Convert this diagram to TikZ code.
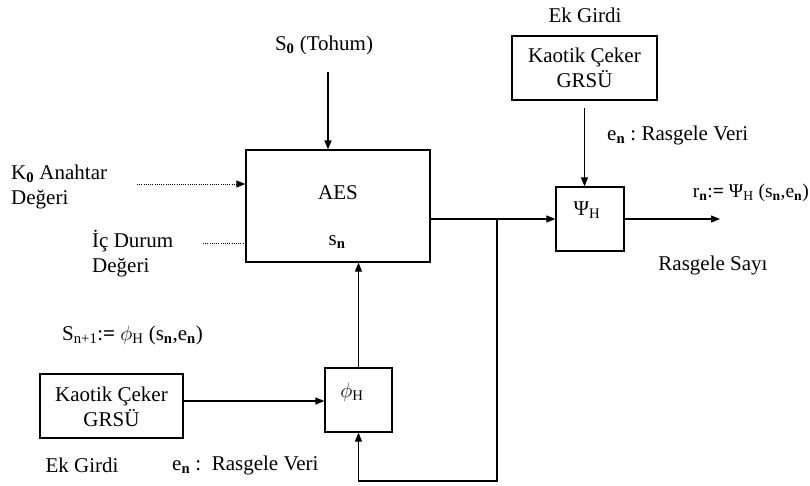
\documentclass[tikz,border=0pt]{standalone}
\usepackage{fontspec}
\setmainfont{Liberation Serif}
\usetikzlibrary{arrows.meta}
\newcommand\sbs[1]{\textsubscript{#1}}
\begin{document}
\begin{tikzpicture}[x=1pt,y=-1pt,
  every node/.style={font=\fontsize{21}{25}\selectfont, inner sep=0pt},
  blk/.style={draw, line width=1.2pt, fill=none},
  lbl/.style={align=left},
  conn/.style={line width=1.2pt},
  arr/.style={conn, -{Triangle[length=9pt,width=7pt]}},
  dotconn/.style={line width=0.9pt, dash pattern=on 1pt off 1.2pt}
]
\useasboundingbox (0,0) rectangle (810,485);
% blocks
\node[blk, minimum width=184pt, minimum height=112pt] (aes) at (338,206) {};
\node[blk, minimum width=68pt, minimum height=64pt] (psi) at (590,219) {};
\node[blk, minimum width=67pt, minimum height=64pt] (phi) at (358.5,400) {};
\node[blk, minimum width=145pt, minimum height=64pt] (ub) at (584.5,68) {};
\node[blk, minimum width=143pt, minimum height=64pt] (lb) at (111.5,406) {};
% texts inside
\node (aest) at (338,193) {AES};
\node (snt) at (337,242) {s\sbs{\textbf{n}}};
\node (psit) at (587,210) {Ψ\sbs{H}};
\node (phit) at (352,392) {$\phi$\sbs{H}};
\node[align=center] (ubt) at (584.5,68) {Kaotik Çeker\\GRSÜ};
\node[align=center] (lbt) at (111.5,407) {Kaotik Çeker\\GRSÜ};
% labels
\node (ek1) at (585,15) {Ek Girdi};
\node (s0) at (324,45) {S\sbs{\textbf{0}} (Tohum)};
\node[lbl, anchor=west] (k0) at (11,187) {K\sbs{\textbf{0}} Anahtar\\Değeri};
\node[lbl, anchor=west] (ic) at (92,254) {İç Durum\\Değeri};
\node[anchor=west] (en1) at (607,135) {e\sbs{\textbf{n}} :\ Rasgele Veri};
\node[anchor=east, font=\fontsize{19.5}{25}\selectfont] (rn) at (809,193) {r\sbs{\textbf{n}}:\textbf{=} Ψ\sbs{H} (s\sbs{\textbf{n}},e\sbs{\textbf{n}})};
\node (rs) at (713,265) {Rasgele Sayı};
\node[anchor=west] (snp) at (62,335) {S\sbs{n+1}:\textbf{=} $\phi$\sbs{H} (s\sbs{\textbf{n}},e\sbs{\textbf{n}})};
\node (ek2) at (82,465) {Ek Girdi};
\node[anchor=west] (en2) at (172,465) {e\sbs{\textbf{n}} :\ \ Rasgele Veri};
% coordinates
\coordinate (s0a) at (328,72);
\coordinate (k0a) at (137,184);
\coordinate (ica) at (203,243);
\coordinate (junc) at (497,219);
\coordinate (bot) at (497,481);
\coordinate (out) at (720,219);
% connectors
\draw[arr] (s0a) -- (s0a |- aes.north);
\draw[dotconn] (k0a) -- ([xshift=-8pt]k0a -| aes.west);
\draw[line width=0.9pt, -{Triangle[length=9pt,width=7pt]}] ([xshift=-9pt]k0a -| aes.west) -- (k0a -| aes.west);
\draw[dotconn] (ica) -- (ica -| aes.west);
\draw[conn] (aes.east |- junc) -- (junc);
\draw[arr] (junc) -- (psi.west);
\draw[arr] (psi.east) -- (out);
\draw[arr, shorten <=7pt] (ub.south) -- (ub.south |- psi.north);
\draw[arr] ([yshift=5pt]lb.east) -- ([yshift=5pt]lb.east -| phi.west);
\draw[arr] (phi.north) -- (phi.north |- aes.south);
\draw[arr] (junc) -- (bot) -| (phi.south);
\end{tikzpicture}
\end{document}
